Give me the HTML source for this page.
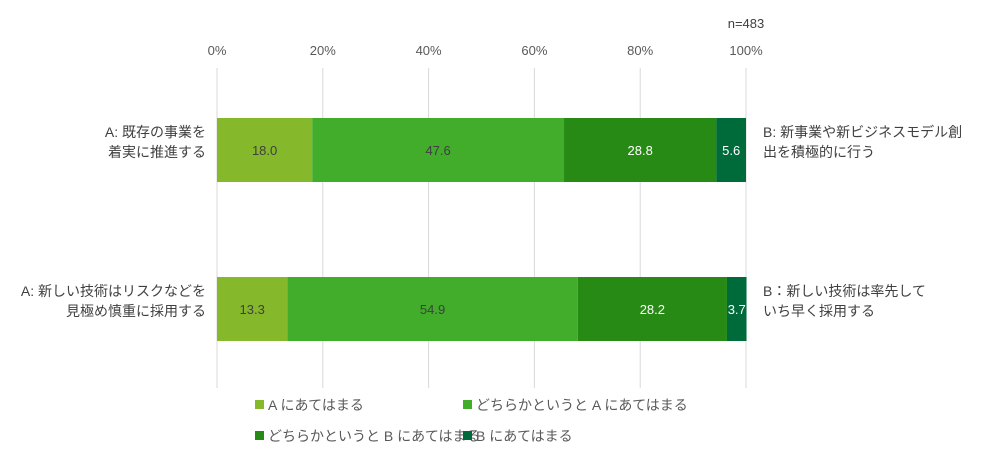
<!DOCTYPE html>
<html><head><meta charset="utf-8">
<style>
body{margin:0;background:#fff;font-family:"Liberation Sans","Noto Sans CJK JP",sans-serif;}
svg text{font-family:"Liberation Sans","Noto Sans CJK JP",sans-serif;}
</style></head>
<body>
<svg id="chart" width="994" height="465" xmlns="http://www.w3.org/2000/svg">
<text x="746" y="28" font-size="13" fill="#404040" text-anchor="middle">n=483</text>
<g id="grid"></g><g id="bars"></g><g id="labels"></g><g id="legend"></g>
</svg>
<script>
const categoriesA = [["A: 既存の事業を","着実に推進する"],["A: 新しい技術はリスクなどを","見極め慎重に採用する"]];
const categoriesB = [["B: 新事業や新ビジネスモデル創","出を積極的に行う"],["B：新しい技術は率先して","いち早く採用する"]];
const seriesNames = ["A にあてはまる","どちらかというと A にあてはまる","どちらかというと B にあてはまる","B にあてはまる"];
const s1 = [18.0, 13.3];
const s2 = [47.6, 54.9];
const s3 = [28.8, 28.2];
const s4 = [5.6, 3.7];
const tickValues = [0,20,40,60,80,100];
const colors = ["#85b82a","#41ad2b","#268a14","#006b3a"];
const textColors = ["#404040","#404040","#ffffff","#ffffff"];
const NS="http://www.w3.org/2000/svg";
const x0=217,x1=746;
const xs=v=>x0+(x1-x0)*v/100;
const rowY=i=>118+i*159, barH=64;
function mk(tag,attrs,parent){const e=document.createElementNS(NS,tag);for(const k in attrs)e.setAttribute(k,attrs[k]);parent.appendChild(e);return e;}
const grid=document.getElementById('grid');
tickValues.forEach(t=>{
  const l=mk('line',{x1:xs(t),x2:xs(t),y1:68,y2:388,stroke:'#d9d9d9','stroke-width':1},grid);
  
  
  const tx=mk('text',{x:xs(t),y:55,'font-size':13,fill:'#595959','text-anchor':'middle'},grid);
  tx.textContent=t+'%';
  
  
});
const bars=document.getElementById('bars'),labels=document.getElementById('labels');
const series=[s1,s2,s3,s4];
categoriesA.forEach((c,i)=>{
  let acc=0;
  series.forEach((s,j)=>{
    const v=s[i];
    const r=mk('rect',{x:xs(acc),y:rowY(i),width:xs(acc+v)-xs(acc),height:barH,fill:colors[j]},bars);
    
    
    const t=mk('text',{x:(xs(acc)+xs(acc+v))/2,y:rowY(i)+barH/2+5,'font-size':13,fill:textColors[j],'text-anchor':'middle'},labels);
    t.textContent=v.toFixed(1);
    
    
    acc+=v;
  });
  c.forEach((line,k)=>{
    const t=mk('text',{x:206,y:rowY(i)+19+k*20,'font-size':14,fill:'#404040','text-anchor':'end'},labels);
    t.textContent=line;
    
    
  });
  categoriesB[i].forEach((line,k)=>{
    const t=mk('text',{x:763,y:rowY(i)+19+k*20,'font-size':14,fill:'#404040'},labels);
    t.textContent=line;
    
    
  });
});
const legend=document.getElementById('legend');
const legPos=[[255,410],[463,410],[255,441],[463,441]];
seriesNames.forEach((n,j)=>{
  const [lx,ly]=legPos[j];
  const g=mk('g',{},legend);
  
  
  mk('rect',{x:lx,y:ly-10,width:9,height:9,fill:colors[j]},g);
  const t=mk('text',{x:lx+13,y:ly,'font-size':14,fill:'#595959'},g);
  t.textContent=n;
});
</script>
</body></html>
